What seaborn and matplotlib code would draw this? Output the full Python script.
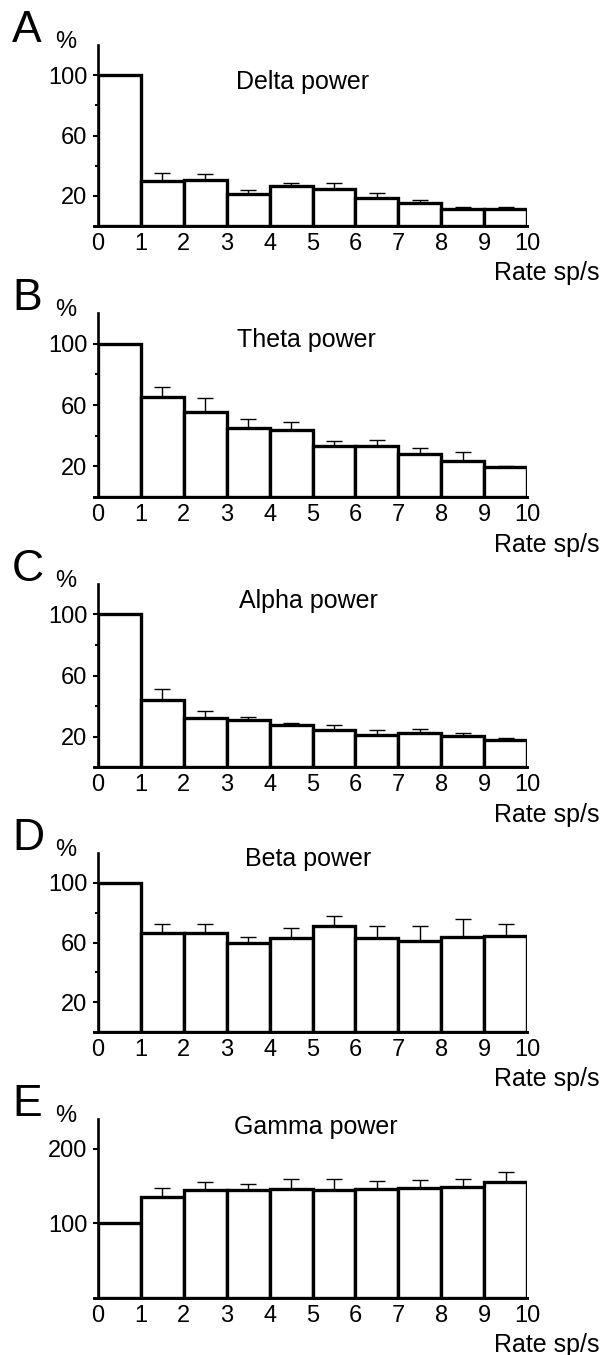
"""
Band power vs firing rate, five stacked bar panels (A-E).
"""

import numpy as np
import pandas as pd
import matplotlib
matplotlib.use("Agg")
import matplotlib.pyplot as plt
import seaborn as sns

# ---- data ----
rate_edges = [str(i) for i in range(11)]          # x tick labels at bar edges
rate_bins = [f"{i}-{i + 1}" for i in range(10)]    # one bar per bin

delta_mean = [100, 30, 30.5, 21.5, 26.5, 24.5, 18.5, 15, 11.5, 11.5]
delta_sem = [0, 5.3, 4, 2.5, 2, 4, 3.5, 2, 1, 1]

theta_mean = [100, 65, 55.5, 45, 43.5, 33, 33, 28, 23.5, 19.5]
theta_sem = [0, 7, 9, 6, 5.5, 3.5, 4, 4, 6, 1]

alpha_mean = [100, 44, 32, 30.5, 27.5, 24, 21, 22, 20.5, 17.5]
alpha_sem = [0, 7, 5, 2.5, 1.5, 3.5, 3, 3, 2, 1.5]

beta_mean = [100, 66.5, 66.5, 59.5, 63, 71, 63, 61, 63.5, 64.5]
beta_sem = [0, 6, 6, 4, 7, 7, 8, 10, 12, 8]

gamma_mean = [100, 136, 145, 145, 146, 145, 146, 147, 149, 155]
gamma_sem = [0, 12, 11, 8, 14, 14, 11, 11, 10, 14]

panel_letters = ["A", "B", "C", "D", "E"]
panel_titles = ["Delta power", "Theta power", "Alpha power", "Beta power", "Gamma power"]
panel_means = [delta_mean, theta_mean, alpha_mean, beta_mean, gamma_mean]
panel_sems = [delta_sem, theta_sem, alpha_sem, beta_sem, gamma_sem]

# ---- layout (figure pixels -> fractions) ----
W, H = 605, 1355
AX_LEFT, AX_RIGHT = 98, 527
panel_box = [(45, 226), (313, 497), (584, 767), (853, 1032), (1119, 1298)]  # (top, baseline)
title_pos = [(0.478, 0.797), (0.485, 0.854), (0.49, 0.905), (0.49, 0.969), (0.508, 0.957)]

sns.set_style("ticks")
plt.rcParams['font.family'] = ['Liberation Sans', 'DejaVu Sans']
# plain black like the original figure (seaborn uses dark grey)
for key in ["text.color", "axes.labelcolor", "xtick.color", "ytick.color", "axes.edgecolor"]:
    plt.rcParams[key] = "black"
FS = 18
TICK_FS = 17

fig = plt.figure(figsize=(W / 100, H / 100), dpi=100)

for k in range(5):
    top, base = panel_box[k]
    ax = fig.add_axes([AX_LEFT / W, 1 - base / H,
                       (AX_RIGHT - AX_LEFT) / W, (base - top) / H])

    df = pd.DataFrame({"rate": rate_bins, "power": panel_means[k]})
    sns.barplot(data=df, x="rate", y="power", order=rate_bins, color="white",
                edgecolor="black", linewidth=2.4, width=1.0, errorbar=None,
                saturation=1, ax=ax)
    for p in ax.patches:
        p.set_facecolor("white")

    # upper error bars only
    means = np.array(panel_means[k])
    sems = np.array(panel_sems[k])
    idx = np.arange(len(rate_bins))[1:]
    ax.errorbar(idx, means[1:], yerr=[np.zeros(len(idx)), sems[1:]], fmt="none",
                ecolor="black", elinewidth=1.0, capsize=5.5, capthick=1.0, zorder=1)

    ax.set_xlim(-0.5, 9.5)
    ax.set_xticks(np.arange(11) - 0.5)
    ax.set_xticklabels(rate_edges, fontsize=TICK_FS)
    ax.tick_params(axis="x", length=0, pad=5)

    if k < 4:
        ax.set_ylim(0, 120)
        ax.set_yticks([20, 60, 100])
        ax.set_yticks([40, 80], minor=True)
    else:
        ax.set_ylim(0, 240)
        ax.set_yticks([100, 200])
    ax.tick_params(axis="y", which="major", length=3.5, width=1.5, pad=4, labelsize=TICK_FS)
    ax.tick_params(axis="y", which="minor", length=2.5, width=1.5)

    sns.despine(ax=ax)
    ax.spines["left"].set_linewidth(1.9)
    ax.spines["bottom"].set_linewidth(2.1)
    ax.spines["bottom"].set_bounds(-0.6, 9.5)
    ax.set_xlabel("")
    ax.set_ylabel("")

    ax.text(title_pos[k][0], title_pos[k][1], panel_titles[k], transform=ax.transAxes,
            ha="center", va="center", fontsize=FS)
    ax.text(1.17, -0.26, "Rate sp/s", transform=ax.transAxes,
            ha="right", va="center", fontsize=FS)
    ax.text(-0.075, 1.015, "%", transform=ax.transAxes,
            ha="center", va="center", fontsize=FS - 1)
    fig.text(12 / W, 1 - (top - 3) / H, panel_letters[k], ha="left", va="baseline",
             fontsize=32)

fig.savefig("out.png", dpi=100, facecolor="white")
